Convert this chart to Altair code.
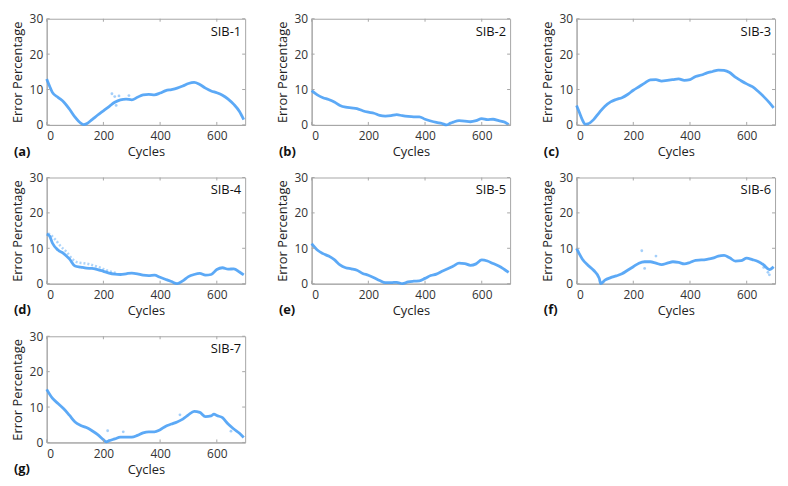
import altair as alt
import pandas as pd

BLUE = "#4aa0f5"
GRAY = "#a6a6a6"
FONT = "Open Sans"
W, H = 200, 107

names = ["SIB-1", "SIB-2", "SIB-3", "SIB-4", "SIB-5", "SIB-6", "SIB-7"]
letters = ["(a)", "(b)", "(c)", "(d)", "(e)", "(f)", "(g)"]

x_ticks = [0, 200, 400, 600]
y_ticks = [0, 10, 20, 30]

cyc_1 = [0, 10, 20, 40, 60, 80, 100, 120, 130, 140, 160, 180, 200, 220, 240, 260, 280, 300, 320, 340, 360, 380, 400, 420, 440, 460, 480, 500, 520, 540, 560, 580, 600, 620, 640, 660, 680, 695]
err_1 = [13, 11, 9.2, 7.8, 6.5, 4.5, 2.2, 0.5, 0.1, 0.3, 1.5, 2.8, 4.0, 5.2, 6.4, 7.1, 7.3, 7.1, 7.8, 8.5, 8.6, 8.5, 9.0, 9.7, 10.0, 10.4, 11.0, 11.7, 12.0, 11.4, 10.4, 9.6, 9.1, 8.4, 7.3, 5.8, 3.8, 1.5]
out_c1 = [230, 240, 255, 290, 245]
out_e1 = [8.8, 8.0, 8.2, 8.3, 5.5]

cyc_2 = [0, 20, 40, 60, 80, 100, 120, 140, 160, 180, 200, 220, 240, 260, 280, 300, 320, 340, 360, 380, 400, 420, 440, 460, 475, 490, 500, 520, 540, 560, 580, 600, 620, 640, 660, 680, 695]
err_2 = [9.7, 8.5, 7.7, 7.2, 6.5, 5.5, 5.0, 4.8, 4.6, 4.0, 3.6, 3.3, 2.7, 2.5, 2.6, 2.9, 2.6, 2.4, 2.3, 2.3, 1.6, 1.1, 0.7, 0.4, 0.0, 0.5, 0.8, 1.2, 1.1, 0.9, 1.2, 1.8, 1.5, 1.6, 1.2, 0.8, 0.1]

cyc_3 = [0, 10, 20, 30, 40, 60, 80, 100, 120, 140, 160, 180, 200, 220, 240, 260, 280, 300, 320, 340, 360, 380, 400, 420, 440, 460, 480, 500, 520, 540, 560, 580, 600, 620, 640, 660, 680, 695]
err_3 = [5.5, 3.5, 1.5, 0.2, 0.3, 1.5, 3.5, 5.3, 6.5, 7.2, 7.7, 8.6, 9.8, 10.8, 11.8, 12.7, 12.8, 12.4, 12.6, 12.8, 13.0, 12.6, 12.8, 13.7, 14.1, 14.7, 15.1, 15.5, 15.4, 14.8, 13.5, 12.5, 11.6, 10.8, 9.5, 8.0, 6.3, 4.8]

cyc_4 = [0, 10, 20, 40, 60, 80, 100, 120, 140, 160, 180, 200, 220, 240, 260, 280, 300, 320, 340, 360, 380, 400, 420, 440, 460, 480, 500, 520, 540, 560, 580, 600, 620, 640, 660, 680, 695]
err_4 = [14, 13.5, 11.5, 9.5, 8.5, 7.0, 5.0, 4.7, 4.4, 4.3, 4.0, 3.5, 3.0, 2.7, 2.6, 2.8, 3.0, 2.8, 2.4, 2.3, 2.4, 1.8, 1.2, 0.6, 0.0, 0.8, 2.0, 2.6, 2.9, 2.4, 2.6, 4.0, 4.5, 4.1, 4.2, 3.3, 2.5]
band_c4 = [5, 10, 30, 50, 70, 90, 110, 130, 150, 170, 190, 210, 230, 250]
band_e4 = [14.2, 14.0, 12.5, 10.5, 9.0, 7.0, 6.0, 5.8, 5.5, 5.0, 4.5, 3.8, 3.3, 3.0]

cyc_5 = [0, 20, 40, 60, 80, 100, 120, 140, 160, 180, 200, 220, 240, 260, 280, 300, 320, 340, 360, 380, 400, 420, 440, 460, 480, 500, 520, 540, 560, 580, 600, 620, 640, 660, 680, 695]
err_5 = [11.3, 9.5, 8.5, 7.8, 6.8, 5.3, 4.5, 4.2, 3.8, 2.9, 2.4, 1.7, 0.9, 0.3, 0.3, 0.4, 0.0, 0.5, 0.7, 0.8, 1.5, 2.3, 2.7, 3.5, 4.2, 5.0, 5.8, 5.7, 5.2, 5.6, 6.7, 6.4, 5.7, 5.0, 4.0, 3.2]

cyc_6 = [0, 20, 40, 60, 80, 85, 100, 120, 140, 160, 180, 200, 220, 240, 260, 280, 300, 320, 340, 360, 380, 400, 420, 440, 460, 480, 500, 520, 540, 560, 580, 600, 620, 640, 660, 680, 695]
err_6 = [10, 7, 5.2, 3.8, 1.5, 0.0, 1.0, 1.7, 2.2, 2.8, 3.8, 4.8, 5.8, 6.2, 6.2, 5.8, 5.4, 5.8, 6.2, 6.0, 5.6, 6.0, 6.6, 6.7, 6.9, 7.2, 7.8, 8.0, 7.3, 6.4, 6.5, 7.2, 6.8, 6.3, 5.3, 4.0, 4.8]
out_c6 = [230, 280, 240, 680, 675, 660]
out_e6 = [9.3, 7.8, 4.3, 2.5, 3.2, 4.6]

cyc_7 = [0, 20, 40, 60, 80, 100, 120, 140, 160, 180, 200, 210, 220, 240, 260, 280, 300, 320, 340, 360, 380, 400, 420, 440, 460, 480, 500, 520, 540, 560, 580, 590, 600, 620, 640, 660, 680, 695]
err_7 = [15, 12.5, 11, 9.5, 7.7, 5.8, 4.8, 4.2, 3.3, 2.2, 0.8, 0.2, 0.5, 1.0, 1.5, 1.5, 1.5, 2.0, 2.7, 3.0, 3.0, 3.6, 4.6, 5.2, 5.8, 6.6, 7.8, 8.8, 8.5, 7.3, 7.5, 8.0, 7.6, 7.0, 5.2, 3.8, 2.6, 1.4]
out_c7 = [215, 270, 470, 650]
out_e7 = [3.3, 3.0, 7.8, 3.2]

series = [
    (cyc_1, err_1, out_c1, out_e1, None, None),
    (cyc_2, err_2, None, None, None, None),
    (cyc_3, err_3, None, None, None, None),
    (cyc_4, err_4, None, None, band_c4, band_e4),
    (cyc_5, err_5, None, None, None, None),
    (cyc_6, err_6, out_c6, out_e6, None, None),
    (cyc_7, err_7, out_c7, out_e7, None, None),
]


def X(field="Cycles:Q"):
    return alt.X(field, scale=alt.Scale(domain=[0, 700], nice=False, zero=False),
                 axis=alt.Axis(values=x_ticks, title="Cycles", labelOverlap=False))


def Y(field="Err:Q"):
    return alt.Y(field, scale=alt.Scale(domain=[0, 30], nice=False),
                 axis=alt.Axis(values=y_ticks, title="Error Percentage", labelOverlap=False))


def panel(i):
    cyc, err, oc, oe, bc, be = series[i]
    df = pd.DataFrame({"Cycles": cyc, "Err": err})
    line = alt.Chart(df).mark_line(
        color=BLUE, strokeWidth=2.8, opacity=0.9, interpolate="monotone"
    ).encode(x=X(), y=Y())
    layers = [line]
    if bc is not None:
        bdf = pd.DataFrame({"Cycles": bc, "Err": be})
        layers.append(alt.Chart(bdf).mark_line(
            color=BLUE, strokeWidth=2.5, opacity=0.45, strokeDash=[2, 2],
            interpolate="monotone"
        ).encode(x=X(), y=Y()))
    if oc is not None:
        odf = pd.DataFrame({"Cycles": oc, "Err": oe})
        layers.append(alt.Chart(odf).mark_point(
            filled=True, size=8, color=BLUE, opacity=0.5
        ).encode(x=X(), y=Y()))
    xt = pd.DataFrame({"Cycles": x_ticks})
    yt = pd.DataFrame({"Err": y_ticks})
    layers.append(alt.Chart(xt).mark_rule(color=GRAY, strokeWidth=1).encode(
        x=X(), y=alt.value(H), y2=alt.value(H - 3)))
    layers.append(alt.Chart(xt).mark_rule(color=GRAY, strokeWidth=1).encode(
        x=X(), y=alt.value(0), y2=alt.value(3)))
    layers.append(alt.Chart(yt).mark_rule(color=GRAY, strokeWidth=1).encode(
        y=Y(), x=alt.value(0), x2=alt.value(3)))
    layers.append(alt.Chart(yt).mark_rule(color=GRAY, strokeWidth=1).encode(
        y=Y(), x=alt.value(W), x2=alt.value(W - 3)))
    tdf = pd.DataFrame({"name": [names[i]], "letter": [letters[i]]})
    layers.append(alt.Chart(tdf).mark_text(
        align="right", baseline="middle", fontSize=13, font=FONT, color="#111"
    ).encode(x=alt.value(W - 4), y=alt.value(13), text="name:N"))
    layers.append(alt.Chart(tdf).mark_text(
        align="left", baseline="middle", fontSize=13, font=FONT,
        fontWeight="bold", color="#111"
    ).encode(x=alt.value(-33), y=alt.value(H + 27), text="letter:N"))
    return alt.layer(*layers).properties(width=W, height=H)


chart = alt.concat(*[panel(i) for i in range(7)], columns=3, bounds="flush",
                   spacing={"row": 53, "column": 67}).configure(
    padding={"left": 2, "top": 2, "right": 0, "bottom": 0},
    font=FONT,
).configure_view(stroke=GRAY, strokeWidth=1).configure_axis(
    grid=False, ticks=False, domainColor=GRAY, domainWidth=1,
    labelFont=FONT, labelFontSize=12, labelColor="#333",
    titleFont=FONT, titleFontSize=13, titleFontWeight="normal", titleColor="#222",
).configure_axisX(labelPadding=6, titlePadding=4).configure_axisY(
    labelPadding=4, titlePadding=5)

chart.save("out.html", embed_options={"renderer": "svg", "actions": False})
